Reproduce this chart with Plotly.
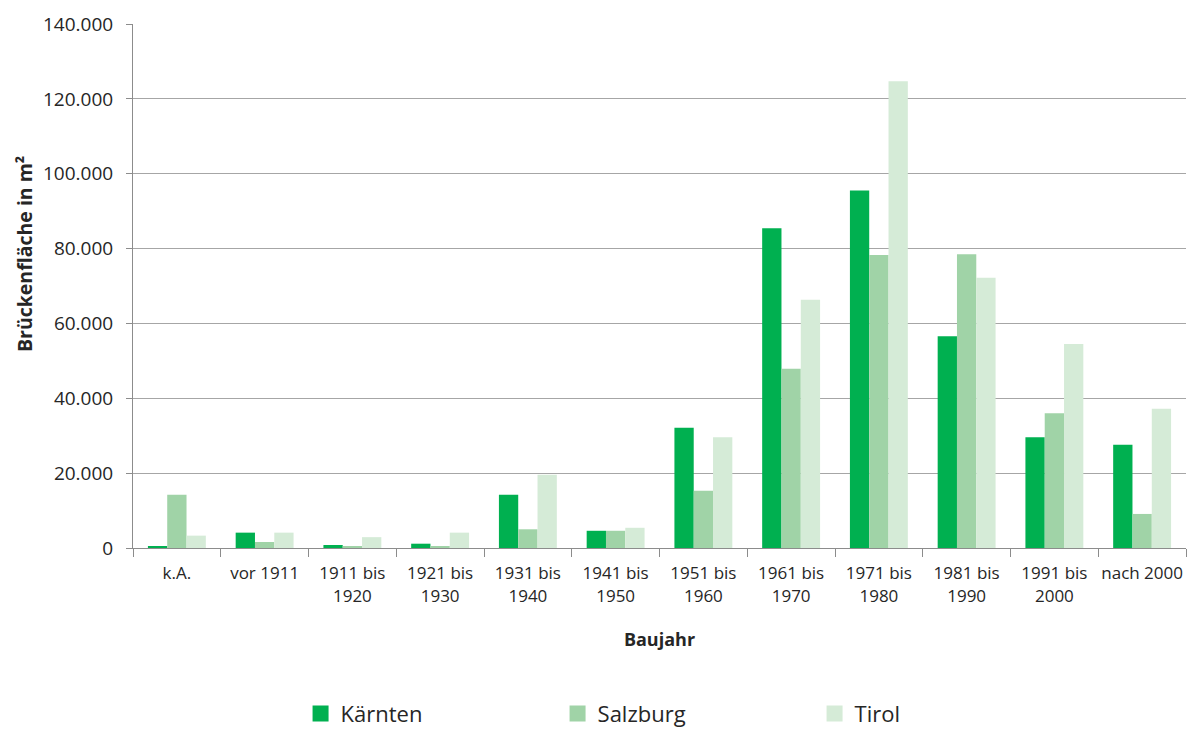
import plotly.graph_objects as go

categories = ["k.A.", "vor 1911", "1911 bis<br>1920", "1921 bis<br>1930", "1931 bis<br>1940",
              "1941 bis<br>1950", "1951 bis<br>1960", "1961 bis<br>1970", "1971 bis<br>1980",
              "1981 bis<br>1990", "1991 bis<br>2000", "nach 2000"]
kaernten = [400, 4100, 800, 1150, 14200, 4600, 32100, 85400, 95500, 56600, 29600, 27600]
salzburg = [14200, 1600, 350, 350, 5000, 4600, 15300, 47900, 78300, 78500, 36000, 9100]
tirol = [3300, 4100, 2900, 4100, 19600, 5400, 29600, 66300, 124700, 72200, 54500, 37200]

series_names = ["Kärnten", "Salzburg", "Tirol"]
series_values = [kaernten, salzburg, tirol]
colors = ["#00b050", "#a0d3a7", "#d5ebd7"]

y_tickvals = [0, 20000, 40000, 60000, 80000, 100000, 120000, 140000]
y_ticktext = ["0", "20.000", "40.000", "60.000", "80.000", "100.000", "120.000", "140.000"]
y_title = "<b>Brückenfläche in m²</b>"

FONT = "Open Sans"
TXT = "#262626"

fig = go.Figure()
for name, vals, col in zip(series_names, series_values, colors):
    fig.add_trace(go.Bar(x=categories, y=vals, name=name, marker=dict(color=col, line=dict(width=0)),
                         showlegend=False))
# legend entries with larger square swatches
for name, col in zip(series_names, colors):
    fig.add_trace(go.Scatter(x=[None], y=[None], mode="markers", name=name,
                             marker=dict(symbol="square", size=22, color=col)))

fig.update_layout(
    width=1188, height=729,
    margin=dict(l=133, r=2, t=24, b=181),
    paper_bgcolor="white", plot_bgcolor="white",
    font=dict(family=FONT, color=TXT, size=17),
    barmode="group", bargap=0.34, bargroupgap=0,
    legend=dict(orientation="h", xref="container", yref="container",
                x=0.253, xanchor="left", y=0.021, yanchor="middle",
                font=dict(size=22, color=TXT), itemsizing="trace",
                entrywidth=212, entrywidthmode="pixels", traceorder="normal"),
)
# y-axis title placed like the reference (slightly above the plot centre)
fig.add_annotation(text=y_title, textangle=-90, xref="paper", yref="paper",
                   x=-0.1035, y=0.561, xanchor="center", yanchor="middle", showarrow=False,
                   font=dict(size=19.5, family=FONT, color=TXT))
fig.update_xaxes(
    type="category", tickson="boundaries", ticks="outside", ticklen=8, tickcolor="#8c8c8c",
    showline=True, linecolor="#8c8c8c", linewidth=1, showgrid=False,
    tickangle=0, automargin=False, ticklabelstandoff=10,
    tickfont=dict(size=17, family=FONT, color=TXT),
    title=dict(text="<b>Baujahr</b>", font=dict(size=18, family=FONT, color=TXT), standoff=27),
)
fig.update_yaxes(
    range=[0, 140000], tickvals=y_tickvals, ticktext=y_ticktext,
    ticks="outside", ticklen=6, tickcolor="#8c8c8c",
    showline=True, linecolor="#8c8c8c", linewidth=1, automargin=False,
    showgrid=True, gridcolor="#a6a6a6", gridwidth=1, zeroline=False,
    tickfont=dict(size=19, family=FONT, color=TXT), ticklabelstandoff=9,
)

fig.write_html("out.html", config={"displayModeBar": False},
               post_script="document.body.style.margin='0px';")
